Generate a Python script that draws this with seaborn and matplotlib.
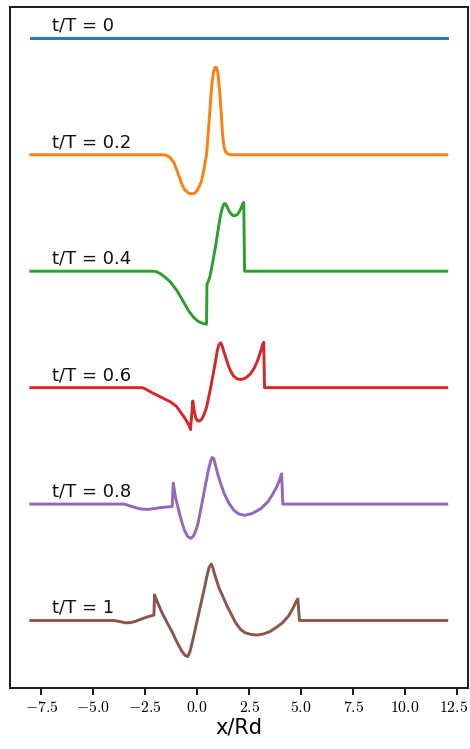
import numpy as np
import pandas as pd
import matplotlib
matplotlib.use("Agg")
import matplotlib.pyplot as plt
import matplotlib.transforms as mtransforms
import seaborn as sns

# ---- data (profile values relative to each baseline) ----
times = ["0", "0.2", "0.4", "0.6", "0.8", "1"]
offsets = [0, -1, -2, -3, -4, -5]
colors = ["#1f77b4", "#ff7f0e", "#2ca02c", "#d62728", "#9467bd", "#8c564b"]

x_t00 = [-8, 12]
y_t00 = [0, 0]

x_t02 = [-8, -1.6, -1.45, -1.3, -1.12, -0.92, -0.72, -0.6, -0.45, -0.32, -0.2, -0.08, 0.02,
         0.12, 0.22, 0.3, 0.38, 0.45, 0.58, 0.66, 0.73, 0.8, 0.86, 0.92, 0.98, 1.04, 1.1,
         1.16, 1.22, 1.28, 1.35, 1.45, 1.6, 12]
y_t02 = [0, 0, -0.008, -0.025, -0.065, -0.16, -0.26, -0.30, -0.325, -0.335, -0.335, -0.325, -0.30,
         -0.265, -0.22, -0.15, -0.07, 0.0, 0.30, 0.50, 0.64, 0.72, 0.75, 0.75, 0.72, 0.63, 0.50,
         0.35, 0.18, 0.08, 0.03, 0.01, 0, 0]

x_t04 = [-8, -2.09, -1.95, -1.8, -1.6, -1.3, -0.96, -0.7, -0.4, -0.2, 0.0, 0.15, 0.3, 0.45,
         0.47, 0.55, 0.62, 0.75, 0.9, 1.0, 1.13, 1.22, 1.3, 1.36, 1.45, 1.55, 1.7, 1.8, 1.95,
         2.08, 2.18, 2.24, 2.28, 12]
y_t04 = [0, 0, -0.005, -0.018, -0.043, -0.09, -0.17, -0.25, -0.343, -0.39, -0.425, -0.44, -0.45, -0.455,
         -0.114, -0.08, -0.04, 0.08, 0.23, 0.35, 0.486, 0.55, 0.58, 0.58, 0.55, 0.51, 0.48, 0.475, 0.49,
         0.53, 0.575, 0.59, 0.0, 0]

x_t06 = [-8, -2.65, -2.5, -2.3, -2.09, -1.7, -1.28, -1.0, -0.8, -0.6, -0.48, -0.38, -0.32,
         -0.21, -0.14, -0.07, 0.02, 0.12, 0.22, 0.32, 0.45, 0.65, 0.89, 0.97, 1.05, 1.13, 1.2,
         1.28, 1.37, 1.5, 1.6, 1.75, 1.9, 2.05, 2.2, 2.35, 2.57, 2.75, 2.9, 3.05, 3.15, 3.2,
         3.24, 12]
y_t06 = [0, 0, -0.01, -0.03, -0.051, -0.085, -0.123, -0.16, -0.21, -0.26, -0.295, -0.33, -0.36,
         -0.115, -0.2, -0.26, -0.285, -0.286, -0.27, -0.235, -0.17, 0.0, 0.234, 0.32, 0.37, 0.385, 0.36,
         0.31, 0.262, 0.19, 0.145, 0.10, 0.078, 0.07, 0.073, 0.085, 0.12, 0.17, 0.23, 0.31, 0.37, 0.39,
         0.0, 0]

x_t08 = [-8, -3.53, -3.3, -3.05, -2.7, -2.41, -2.1, -1.76, -1.4, -1.2, -1.15, -1.08, -1.02,
         -0.96, -0.84, -0.72, -0.6, -0.45, -0.3, -0.18, -0.05, 0.04, 0.18, 0.32, 0.45, 0.55,
         0.65, 0.72, 0.8, 0.9, 1.0, 1.13, 1.3, 1.53, 1.75, 2.0, 2.3, 2.65, 3.06, 3.4, 3.6,
         3.8, 3.95, 4.06, 4.12, 12]
y_t08 = [0, 0, -0.012, -0.027, -0.042, -0.046, -0.04, -0.03, -0.024, -0.022, 0.18, 0.10, 0.04,
         0.0, -0.09, -0.166, -0.23, -0.28, -0.294, -0.275, -0.22, -0.166, -0.04, 0.09, 0.21, 0.30,
         0.37, 0.40, 0.39, 0.32, 0.25, 0.177, 0.09, 0.006, -0.05, -0.085, -0.097, -0.08, -0.04, 0.02, 0.075,
         0.14, 0.20, 0.26, 0.0, 0]

x_t10 = [-8, -4.0, -3.7, -3.45, -3.2, -2.95, -2.65, -2.4, -2.16, -2.08, -2.05, -1.93, -1.7,
         -1.44, -1.2, -0.96, -0.75, -0.58, -0.45, -0.35, -0.2, 0.0, 0.2, 0.35, 0.48, 0.58, 0.68,
         0.76, 0.85, 1.05, 1.25, 1.45, 1.65, 1.85, 2.09, 2.3, 2.6, 2.9, 3.2, 3.5, 3.8, 4.1,
         4.4, 4.62, 4.75, 4.84, 4.92, 12]
y_t10 = [0, 0, -0.01, -0.02, -0.018, -0.006, 0.015, 0.03, 0.043, 0.046, 0.22, 0.166, 0.07,
         -0.02, -0.10, -0.19, -0.26, -0.30, -0.31, -0.27, -0.16, 0.0, 0.16, 0.28, 0.39, 0.46, 0.485,
         0.45, 0.39, 0.28, 0.20, 0.12, 0.05, -0.02, -0.077, -0.105, -0.12, -0.125, -0.115, -0.095, -0.06, -0.02,
         0.04, 0.11, 0.16, 0.185, 0.0, 0]

xs = [x_t00, x_t02, x_t04, x_t06, x_t08, x_t10]
ys = [y_t00, y_t02, y_t04, y_t06, y_t08, y_t10]

xticks = [-7.5, -5.0, -2.5, 0.0, 2.5, 5.0, 7.5, 10.0, 12.5]

# ---- build long table ----
frames = []
for t, off, x, y in zip(times, offsets, xs, ys):
    frames.append(pd.DataFrame({"x": x, "y": np.asarray(y) + off, "t": t}))
df = pd.concat(frames, ignore_index=True)

plt.rcParams["mathtext.fontset"] = "cm"

fig = plt.figure(figsize=(4.7, 7.49), dpi=100)
ax = fig.add_axes([0.0213, 0.0814, 0.9734, 0.9086])

sns.lineplot(data=df, x="x", y="y", hue="t", palette=dict(zip(times, colors)),
             estimator=None, sort=False, units="t", legend=False, lw=2.1, ax=ax)

for t, off in zip(times, offsets):
    ax.text(-7.0, off + 0.065, "t/T = %s" % t, fontsize=13, family="DejaVu Sans",
            va="baseline", ha="left", color="#111111")

ax.set_xlim(-9, 13)
ax.set_ylim(-5.58, 0.265)
ax.set_yticks([])
ax.set_ylabel("")
ax.set_xticks(xticks)
ax.set_xticklabels([r"$%s$" % f"{v:.1f}" for v in xticks], fontsize=11.3)
ax.set_xlabel("x/Rd", fontsize=15, family="DejaVu Sans", labelpad=2)
for s in ax.spines.values():
    s.set_linewidth(1.4)
    s.set_color("#1a1a1a")
ax.tick_params(axis="x", length=5, width=1.4, color="#1a1a1a", pad=3.5)

# keep the last tick label fully inside the canvas
last = ax.get_xticklabels()[-1]
last.set_transform(last.get_transform() +
                   mtransforms.ScaledTranslation(-4 / 100, 0, fig.dpi_scale_trans))

fig.savefig("out.png", dpi=100)
